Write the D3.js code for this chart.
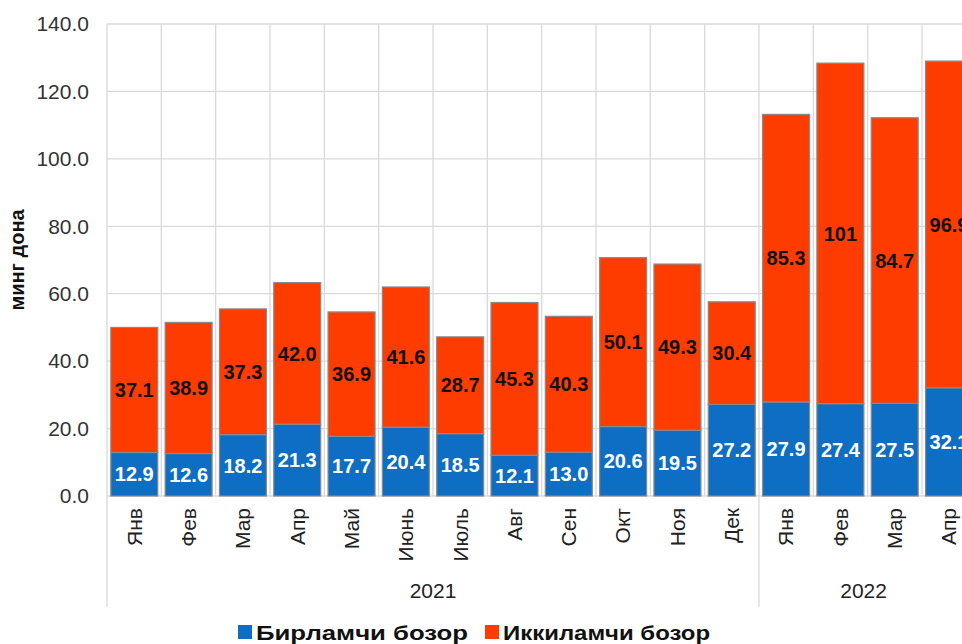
<!DOCTYPE html>
<html>
<head>
<meta charset="utf-8">
<script src="https://cdn.jsdelivr.net/npm/d3@7"></script>
<style>
  html, body { margin: 0; padding: 0; background: #fff; }
  svg { display: block; overflow: hidden; }
  text { font-family: "Liberation Sans", Arial, sans-serif; }
</style>
</head>
<body>
<svg id="chart" width="962" height="644"></svg>
<script>
const months = ["Янв","Фев","Мар","Апр","Май","Июнь","Июль","Авг","Сен","Окт","Ноя","Дек","Янв","Фев","Мар","Апр"];
const years = ["2021","2022"];
const primary = [12.9,12.6,18.2,21.3,17.7,20.4,18.5,12.1,13.0,20.6,19.5,27.2,27.9,27.4,27.5,32.1];
const secondary = [37.1,38.9,37.3,42.0,36.9,41.6,28.7,45.3,40.3,50.1,49.3,30.4,85.3,101,84.7,96.9];
const yTicks = [0,20,40,60,80,100,120,140];
const seriesNames = ["Бирламчи бозор","Иккиламчи бозор"];
const colors = ["#0e6ec4","#ff3c00"];

const svg = d3.select("#chart");
const plotL = 107, plotR = 976.3, plotT = 24, plotB = 496;

const keys = months.map((m, i) => i);
const x = d3.scaleBand().domain(keys).range([plotL, plotR]).paddingInner(0.135).paddingOuter(0.07);
const y = d3.scaleLinear().domain([0, 140]).range([plotB, plotT]);

// horizontal gridlines
svg.append("g").selectAll("line").data(yTicks).join("line")
  .attr("x1", plotL).attr("x2", plotR)
  .attr("y1", d => y(d)).attr("y2", d => y(d))
  .attr("stroke", "#d9d9d9").attr("stroke-width", 1.3);

// vertical gridlines (band boundaries)
const bounds = d3.range(months.length + 1).map(i => plotL + i * (plotR - plotL) / months.length);
svg.append("g").selectAll("line").data(bounds).join("line")
  .attr("x1", d => d).attr("x2", d => d)
  .attr("y1", plotT).attr("y2", plotB)
  .attr("stroke", "#d9d9d9").attr("stroke-width", 1.3);

// year separators below axis
const yearBounds = [0, 12, 16].map(i => plotL + i * (plotR - plotL) / months.length);
svg.append("g").selectAll("line").data(yearBounds).join("line")
  .attr("x1", d => d).attr("x2", d => d)
  .attr("y1", plotB).attr("y2", 607)
  .attr("stroke", "#d9d9d9").attr("stroke-width", 1.3);

// y axis
const yAxis = d3.axisLeft(y).tickValues(yTicks).tickFormat(d3.format(".1f")).tickSize(0).tickPadding(18);
const ga = svg.append("g").attr("transform", `translate(${plotL},0)`).call(yAxis);
ga.select(".domain").remove();
ga.selectAll("text").attr("font-size", 21).attr("fill", "#333").attr("font-family", "Liberation Sans, Arial, sans-serif");

// y title
svg.append("text")
  .attr("transform", `translate(24,260) rotate(-90)`)
  .attr("text-anchor", "middle")
  .attr("font-size", 20).attr("font-weight", "bold").attr("fill", "#111")
  .text("минг дона");

// stacked bars
const data = keys.map(i => ({ i, p: primary[i], s: secondary[i] }));
const stack = d3.stack().keys(["p","s"])(data);

const fmt = d3.format(".3r");
stack.forEach((layer, li) => {
  svg.append("g").selectAll("rect").data(layer).join("rect")
    .attr("x", d => x(d.data.i))
    .attr("width", x.bandwidth())
    .attr("y", d => y(d[1]))
    .attr("height", d => y(d[0]) - y(d[1]))
    .attr("fill", colors[li])
    .attr("stroke", "#8a8a8a").attr("stroke-width", 1.2);
  svg.append("g").selectAll("text").data(layer).join("text")
    .attr("x", d => x(d.data.i) + x.bandwidth() / 2)
    .attr("y", d => (y(d[0]) + y(d[1])) / 2)
    .attr("dy", "0.36em")
    .attr("text-anchor", "middle")
    .attr("font-size", 20).attr("font-weight", "bold")
    .attr("fill", li === 0 ? "#ffffff" : "#111111")
    .text(d => fmt(d[1] - d[0]));
});

// month labels
const xAxis = d3.axisBottom(x).tickFormat(i => months[i]).tickSize(0).tickPadding(0);
const gx = svg.append("g").attr("transform", `translate(0,${plotB})`).call(xAxis);
gx.select(".domain").remove();
gx.selectAll("text")
  .attr("transform", "rotate(-90)")
  .attr("x", -12).attr("y", 0).attr("dy", "0.35em")
  .attr("text-anchor", "end")
  .attr("font-size", 21).attr("fill", "#222")
  .attr("font-family", "Liberation Sans, Arial, sans-serif");

// year labels
svg.append("g").selectAll("text").data(years).join("text")
  .attr("x", (d, k) => (yearBounds[k] + yearBounds[k + 1]) / 2 - (k === 1 ? 4 : 0))
  .attr("y", 598)
  .attr("text-anchor", "middle")
  .attr("font-size", 21).attr("fill", "#222")
  .text(d => d);

// legend
const legendX = [238, 485];
const legendLen = [212, 207];
const lg = svg.append("g").selectAll("g").data(seriesNames).join("g")
  .attr("transform", (d, k) => `translate(${legendX[k]},0)`);
lg.append("rect").attr("x", 0).attr("y", 625).attr("width", 14).attr("height", 14)
  .attr("fill", (d, k) => colors[k]);
lg.append("text")
  .attr("x", 18).attr("y", 640)
  .attr("font-size", 21).attr("font-weight", "bold").attr("fill", "#111")
  .attr("textLength", (d, k) => legendLen[k])
  .attr("lengthAdjust", "spacingAndGlyphs")
  .text(d => d);
</script>
</body>
</html>
